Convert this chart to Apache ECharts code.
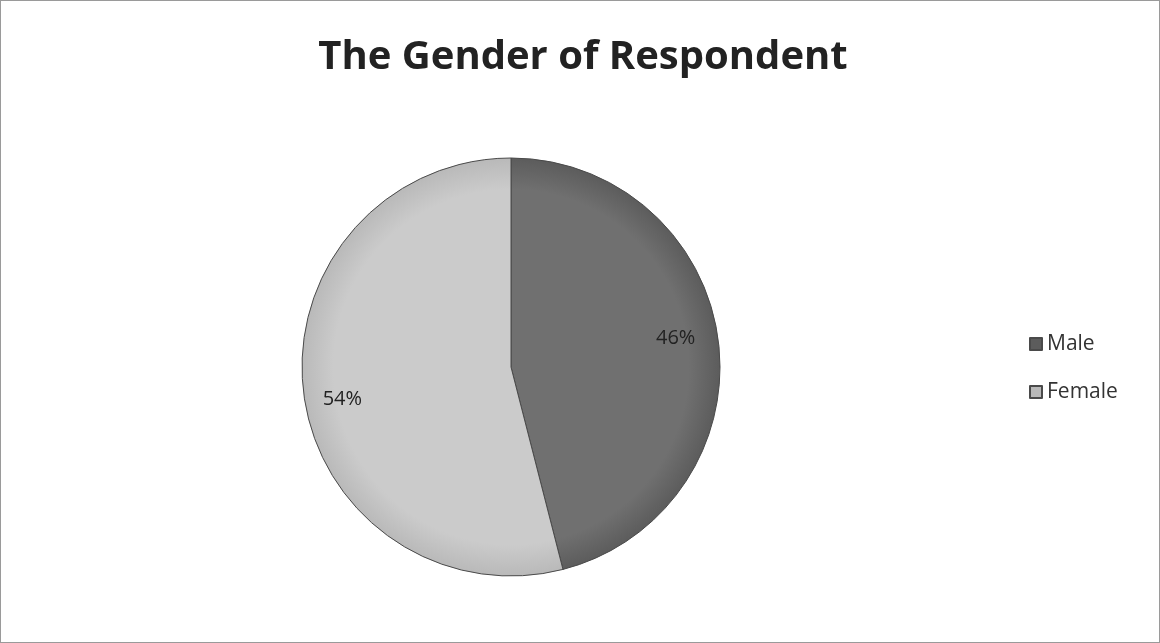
<!DOCTYPE html>
<html>
<head>
<meta charset="utf-8">
<script src="https://cdn.jsdelivr.net/npm/echarts@6/dist/echarts.min.js"></script>
<style>
html,body{margin:0;padding:0;background:#fff;}
#chart{width:1160px;height:643px;box-sizing:border-box;border:1px solid #9a9a9a;}
</style>
</head>
<body>
<div id="chart"></div>
<script>
const titleText = 'The Gender of Respondent';
const categories = ['Male', 'Female'];
const percentValues = [46, 54];
const sliceColors = [
  {inner: '#707070', outer: '#5c5c5c'},
  {inner: '#cbcbcb', outer: '#b9b9b9'}
];
const labelOffsets = [[-4, -7], [0, 11]];

const chart = echarts.init(document.getElementById('chart'), null, {renderer: 'canvas'});

const CX = 510, CY = 366, R = 209;

const fillData = categories.map((name, i) => ({
  name: name,
  value: percentValues[i],
  itemStyle: {
    color: {
      type: 'radial', x: CX, y: CY, r: R, global: true,
      colorStops: [
        {offset: 0, color: sliceColors[i].inner},
        {offset: 0.85, color: sliceColors[i].inner},
        {offset: 1, color: sliceColors[i].outer}
      ]
    }
  }
}));
const labelData = categories.map((name, i) => ({
  name: name,
  value: percentValues[i],
  label: {offset: labelOffsets[i]}
}));

const option = {
  backgroundColor: '#ffffff',
  animation: false,
  title: {
    text: titleText,
    left: 577,
    textAlign: 'center',
    top: 32,
    textStyle: {fontFamily: 'Open Sans', fontWeight: 'bold', fontSize: 40, color: '#222'}
  },
  legend: {
    orient: 'vertical',
    left: 1023,
    top: 326,
    itemWidth: 12,
    itemHeight: 12,
    itemGap: 24,
    icon: 'rect',
    textStyle: {fontFamily: 'Open Sans', fontSize: 21, lineHeight: 24, color: '#333'},
    data: categories
  },
  series: [
    {
      type: 'pie',
      center: [CX, CY],
      radius: [0, R],
      startAngle: 90,
      clockwise: true,
      silent: true,
      label: {show: false},
      labelLine: {show: false},
      itemStyle: {borderColor: '#4a4a4a', borderWidth: 1},
      data: fillData
    },
    {
      type: 'pie',
      center: [CX, CY],
      radius: [125, R],
      startAngle: 90,
      clockwise: true,
      silent: true,
      itemStyle: {color: 'rgba(0,0,0,0)', borderWidth: 0},
      label: {
        show: true,
        position: 'inside',
        formatter: '{c}%',
        fontFamily: 'Open Sans',
        fontSize: 20,
        color: '#222'
      },
      labelLine: {show: false},
      data: labelData
    }
  ]
};
chart.setOption(option);
</script>
</body>
</html>
